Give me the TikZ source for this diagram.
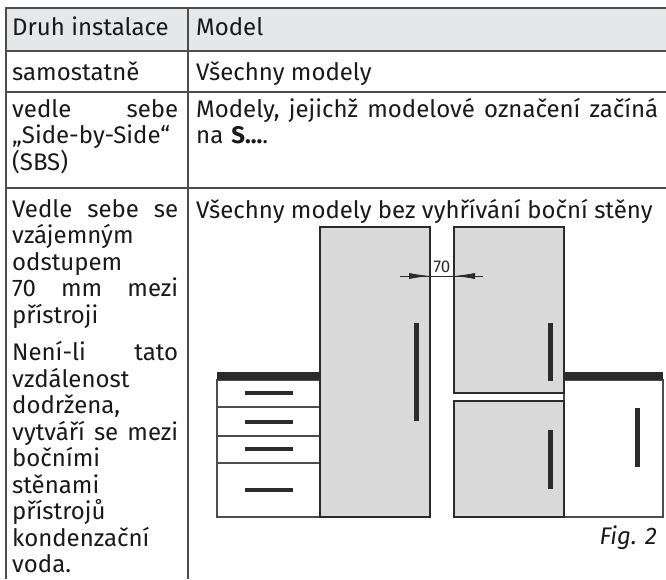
\documentclass[tikz,border=0pt]{standalone}
\usepackage{fontspec}
\setmainfont{Fira Sans}
\usetikzlibrary{positioning,arrows.meta}
\definecolor{rulegray}{HTML}{4D4D4D}
\definecolor{headgray}{HTML}{E6E7E8}
\definecolor{fridgegray}{HTML}{D9D9D9}
\definecolor{darkline}{HTML}{2B2B2B}
% justified line of given width, gaps marked with \hfill
\newcommand{\jline}[2][166pt]{\leavevmode\hbox to #1{#2}}
\tikzset{
    %Define standard arrow tip
    >={Latex[length=21pt,width=6pt]},
    %Define style for table rules
    grid/.style={
           draw=rulegray,
           line width=1.3pt},
    %Define style for cell text
    cell/.style={
           anchor=base west,
           inner sep=0pt,
           text=black!90,
           align=left,
           font=\fontsize{24}{26.5}\selectfont},
    %Define style for appliances
    fridge/.style={
           rectangle,
           draw=darkline,
           line width=2.6pt,
           fill=fridgegray,
           inner sep=0pt,
           outer sep=0pt,
           minimum width=110pt},
    cabinet/.style={
           draw=rulegray,
           line width=1.3pt,
           fill=white},
    handle/.style={
           draw=darkline,
           line width=5pt},
    grip/.style={
           draw=darkline,
           line width=4pt},
    % Define arrow style
    dimtip/.style={
           ->,
           draw=darkline,
           line width=0.8pt}
}

\begin{document}
\begin{tikzpicture}[x=1pt,y=-1pt]
\useasboundingbox (0,0) rectangle (666,579);
% table
\fill[headgray] (6,8) rectangle (666,51);
\draw[grid] (666,8) -- (6,8) -- (6,579);
\draw[grid] (188,8) -- (188,579);
\foreach \y in {51,92,188}
    \draw[grid] (6,\y) -- (666,\y);
\node[cell] (kind) at (12,35) {Druh instalace};
\node[cell] (model) at (196,35) {Model};
\node[cell] (alone) at (12,80) {samostatně};
\node[cell] (allmod) at (196,80) {Všechny modely};
\node[cell,text width=166pt] (sbs) at (12,117)
    {\jline{vedle\hfill sebe}\\„Side-by-Side“\\(SBS)};
\node[cell,text width=462pt] (smod) at (196,117)
    {\jline[462pt]{Modely,\hfill jejichž\hfill modelové\hfill označení\hfill začíná}\\na \textbf{S...}.};
\node[cell,text width=166pt] (apart) at (12,217)
    {\jline{Vedle\hfill sebe\hfill se}\\vzájemným\\odstupem\\\jline{70\hfill mm\hfill mezi}\\přístroji\\[11pt]%
     \jline{Není-li\hfill tato}\\vzdálenost\\dodržena,\\\jline{vytváří\hfill se\hfill mezi}\\bočními\\stěnami\\přístrojů\\kondenzační\\voda.};
\node[cell] (noheat) at (196,218) {Všechny modely bez vyhřívání boční stěny};
\node[cell,anchor=base east,font=\fontsize{24}{26.5}\selectfont\itshape] (fig) at (657,544) {Fig. 2};
% kitchen cabinets
\draw[cabinet] (217,380) rectangle (320,517);
\foreach \y in {407,436,463}
    \draw[cabinet] (217,\y) -- (320,\y);
\foreach \y in {393,422,449,490}
    \draw[grip] (245,\y) -- (293,\y);
\fill[darkline] (217,372) rectangle (320,380);
\draw[cabinet] (564,380) rectangle (663,517);
\fill[darkline] (564,372) rectangle (663,380);
\draw[handle] (637,408) -- (637,467);
% fridges
\node[fridge,minimum height=290pt] (tall) at (375,372) {};
\node[fridge,minimum height=166pt] (upper) at (509,310) {};
\node[fridge,minimum height=116pt,below=8pt of upper] (lower) {};
\draw[handle] (416,323) -- (416,421);
\draw[handle] (550,323) -- (550,381);
\draw[handle] (550,430) -- (550,489);
% gap dimension
\coordinate (dimL) at (400,276);
\coordinate (dimR) at (483,276);
\draw[darkline,line width=0.8pt] (dimL) -- (dimR);
\draw[dimtip] (dimL) -- (dimL -| tall.east);
\draw[dimtip] (dimR) -- (dimR -| upper.west);
\node[inner sep=0pt,text=darkline,font=\fontsize{17}{17}\selectfont] (gapw) at (442,267) {70};
\end{tikzpicture}
\end{document}
